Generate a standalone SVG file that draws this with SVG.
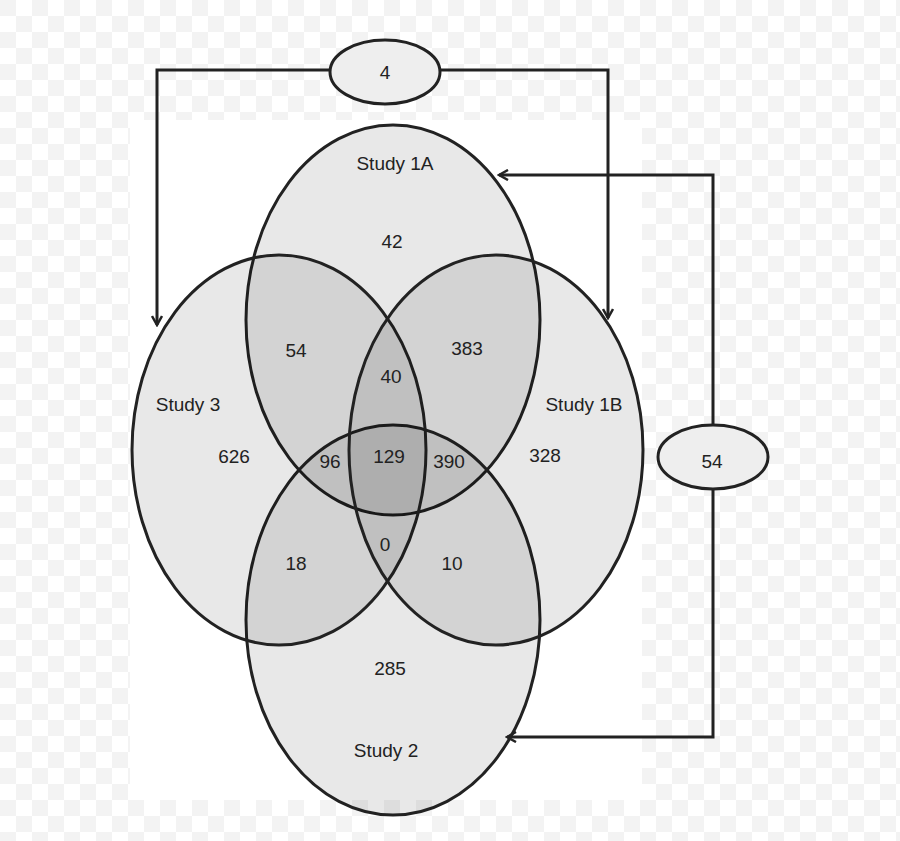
<svg xmlns="http://www.w3.org/2000/svg" width="900" height="841" viewBox="0 0 900 841">
<defs>
<pattern id="chk" width="32" height="32" patternUnits="userSpaceOnUse"><rect width="32" height="32" fill="#ffffff"/><rect width="16" height="16" fill="#f3f3f3"/><rect x="16" y="16" width="16" height="16" fill="#f3f3f3"/></pattern>
<marker id="ar" markerWidth="12" markerHeight="12" refX="10" refY="6" orient="auto" markerUnits="userSpaceOnUse"><path d="M1,1 L10,6 L1,11" fill="none" stroke="#222" stroke-width="2.5"/></marker>
<style>
.set{fill:#000;fill-opacity:0.09;stroke:#222;stroke-width:3}
.oval{fill:#eee;stroke:#222;stroke-width:3}
.t{font-family:"Liberation Sans",Arial,sans-serif;font-size:19px;fill:#222;text-anchor:middle}
.c{fill:none;stroke:#222;stroke-width:3}
</style>
</defs>
<rect width="900" height="841" fill="url(#chk)"/>
<rect x="130" y="120" width="512" height="680" fill="#fff"/>
<g id="study1a"><ellipse class="set" cx="393" cy="320" rx="147" ry="195"/><text class="t" x="395" y="170">Study 1A</text></g>
<g id="study2"><ellipse class="set" cx="393" cy="620" rx="147" ry="195"/><text class="t" x="386" y="757">Study 2</text></g>
<g id="study3"><ellipse class="set" cx="279" cy="450" rx="147" ry="195"/><text class="t" x="188" y="411">Study 3</text></g>
<g id="study1b"><ellipse class="set" cx="496" cy="450" rx="147" ry="195"/><text class="t" x="584" y="411">Study 1B</text></g>
<g id="numbers">
<text class="t" x="392" y="248">42</text>
<text class="t" x="296" y="357">54</text>
<text class="t" x="467" y="355">383</text>
<text class="t" x="391" y="383">40</text>
<text class="t" x="234" y="463">626</text>
<text class="t" x="330" y="468">96</text>
<text class="t" x="389" y="463">129</text>
<text class="t" x="449" y="468">390</text>
<text class="t" x="545" y="462">328</text>
<text class="t" x="296" y="570">18</text>
<text class="t" x="385" y="551">0</text>
<text class="t" x="452" y="570">10</text>
<text class="t" x="390" y="675">285</text>
</g>
<g id="oval4"><ellipse class="oval" cx="385" cy="72" rx="55" ry="32"/><text class="t" x="385" y="79">4</text></g>
<g id="oval54"><ellipse class="oval" cx="713" cy="457" rx="55" ry="32"/><text class="t" x="712" y="468">54</text></g>
<g id="connectors">
<path class="c" d="M330,70 H157 V325" marker-end="url(#ar)"/>
<path class="c" d="M440,70 H608 V318" marker-end="url(#ar)"/>
<path class="c" d="M713,425 V175 H499" marker-end="url(#ar)"/>
<path class="c" d="M713,489 V737 H507" marker-end="url(#ar)"/>
</g>
</svg>
